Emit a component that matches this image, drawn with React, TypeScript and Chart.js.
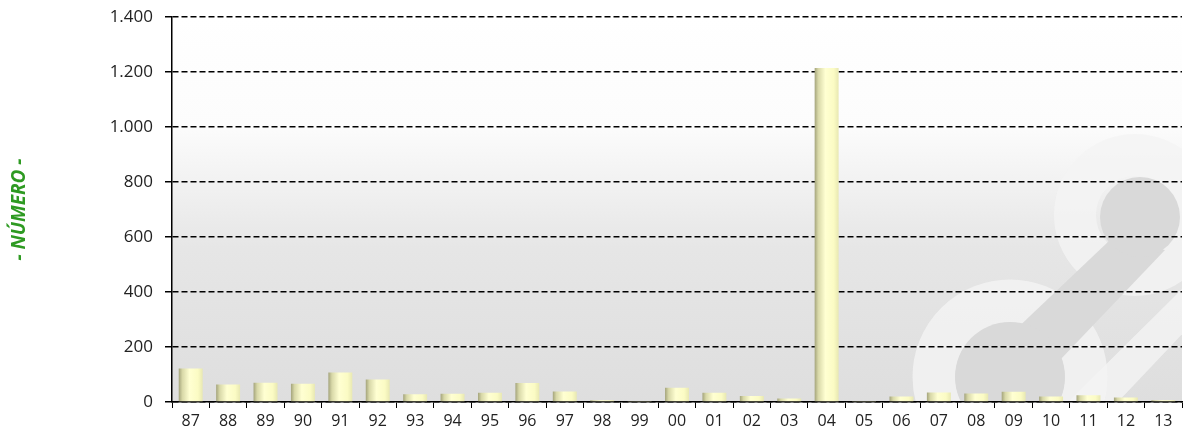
import React, { useEffect, useRef } from "react";
import { Chart, registerables } from "chart.js";

Chart.register(...registerables);

const categories = ["87","88","89","90","91","92","93","94","95","96","97","98","99","00","01","02","03","04","05","06","07","08","09","10","11","12","13"];
const values = [122, 64, 70, 66, 107, 82, 28, 30, 34, 69, 38, 6, 2, 52, 34, 22, 13, 1215, 2, 20, 35, 31, 37, 20, 25, 16, 6];
const yTicks = [0, 200, 400, 600, 800, 1000, 1200, 1400];
const yTitle = "- NÚMERO -";

const fmt = (v: number) => String(v).replace(/\B(?=(\d{3})+(?!\d))/g, ".");

const backgroundPlugin = {
  id: "plotBg",
  beforeDraw(chart: any) {
    const { ctx, chartArea } = chart;
    if (!chartArea) return;
    const { left, top, right, bottom } = chartArea;
    const oy = 5; // canvas is shifted 5px up on the page
    ctx.save();
    ctx.beginPath();
    ctx.rect(left, top, right - left, bottom - top);
    ctx.clip();
    const g = ctx.createLinearGradient(0, top, 0, bottom);
    g.addColorStop(0, "#ffffff");
    g.addColorStop(0.28, "#fcfcfc");
    g.addColorStop(0.6, "#e6e6e6");
    g.addColorStop(1, "#dedede");
    ctx.fillStyle = g;
    ctx.fillRect(left, top, right - left, bottom - top);
    ctx.translate(0, oy);
    // faint watermark logo in the lower right
    ctx.fillStyle = "rgba(244,244,244,0.8)";
    ctx.beginPath();
    ctx.moveTo(1186, 285);
    ctx.lineTo(1186, 330);
    ctx.lineTo(1115, 405);
    ctx.lineTo(1065, 405);
    ctx.closePath();
    ctx.fill();
    ctx.strokeStyle = "rgba(244,244,244,0.8)";
    ctx.lineWidth = 43;
    ctx.beginPath();
    ctx.arc(1010, 377, 76, 0, Math.PI * 2);
    ctx.stroke();
    ctx.lineWidth = 42;
    ctx.beginPath();
    ctx.arc(1135, 215, 60, 0, Math.PI * 2);
    ctx.stroke();
    ctx.fillStyle = "#d9d9d9";
    ctx.beginPath();
    ctx.moveTo(1110, 240);
    ctx.lineTo(1165, 250);
    ctx.lineTo(1060, 360);
    ctx.lineTo(1010, 335);
    ctx.closePath();
    ctx.fill();
    ctx.beginPath();
    ctx.arc(1140, 217, 40, 0, Math.PI * 2);
    ctx.fill();
    ctx.beginPath();
    ctx.arc(1010, 377, 55, 0, Math.PI * 2);
    ctx.fill();
    ctx.restore();
  },
};

export default function App() {
  const ref = useRef<HTMLCanvasElement>(null);
  useEffect(() => {
    if (!ref.current) return;
    const chart = new Chart(ref.current, {
      type: "bar",
      data: {
        labels: categories,
        datasets: [
          {
            data: values,
            barPercentage: 0.64,
            categoryPercentage: 1,
            borderWidth: 0,
            backgroundColor: (c: any) => {
              const ch = c.chart;
              const area = ch.chartArea;
              const xs = ch.scales && ch.scales.x;
              if (!area || !xs) return "#ffffc8";
              const x = xs.getPixelForValue(c.dataIndex);
              const w = (area.right - area.left) / categories.length * 0.64;
              const g = ch.ctx.createLinearGradient(x - w / 2, 0, x + w / 2, 0);
              g.addColorStop(0, "#a4a47c");
              g.addColorStop(0.15, "#d8d8a8");
              g.addColorStop(0.45, "#ffffd2");
              g.addColorStop(0.8, "#fbfbc4");
              g.addColorStop(1, "#e8e8b2");
              return g;
            },
          },
        ],
      },
      options: {
        animation: false,
        responsive: true,
        maintainAspectRatio: false,
        layout: { padding: { top: 0, right: 4, left: 0, bottom: 0 } },
        plugins: { legend: { display: false }, tooltip: { enabled: false } },
        scales: {
          x: {
            afterFit: (s: any) => { s.height = 37; },
            grid: {
              display: true,
              drawOnChartArea: false,
              drawTicks: true,
              tickLength: 6,
              color: "#000",
              lineWidth: 1,
              offset: true,
            },
            border: { display: true, color: "#000", width: 1.5 },
            ticks: {
              color: "#222",
              padding: 4,
              maxRotation: 0,
              autoSkip: false,
              font: { family: "'Open Sans'", size: 16 },
            },
          },
          y: {
            min: 0,
            max: 1400,
            afterFit: (s: any) => { s.width = 172; },
            afterBuildTicks: (s: any) => { s.ticks = yTicks.map((v) => ({ value: v })); },
            grid: {
              color: "#000",
              lineWidth: 1.5,
              tickBorderDash: [],
              tickLength: 7,
              drawTicks: true,
            },
            border: { display: true, color: "#000", width: 1.5, dash: [6, 3] },
            ticks: {
              color: "#222",
              padding: 12,
              font: { family: "'Open Sans'", size: 17 },
              callback: (v: any) => fmt(Number(v)),
            },
            title: {
              display: true,
              text: yTitle,
              color: "#2e9a22",
              padding: { top: 8, bottom: 0 },
              font: { family: "'Open Sans'", size: 19, weight: "bold", style: "italic" },
            },
          },
        },
      },
      plugins: [backgroundPlugin],
    } as any);
    return () => chart.destroy();
  }, []);
  return (
    <div style={{ position: "absolute", left: 0, top: -5, width: 1186, height: 444 }}>
      <canvas ref={ref} />
    </div>
  );
}
